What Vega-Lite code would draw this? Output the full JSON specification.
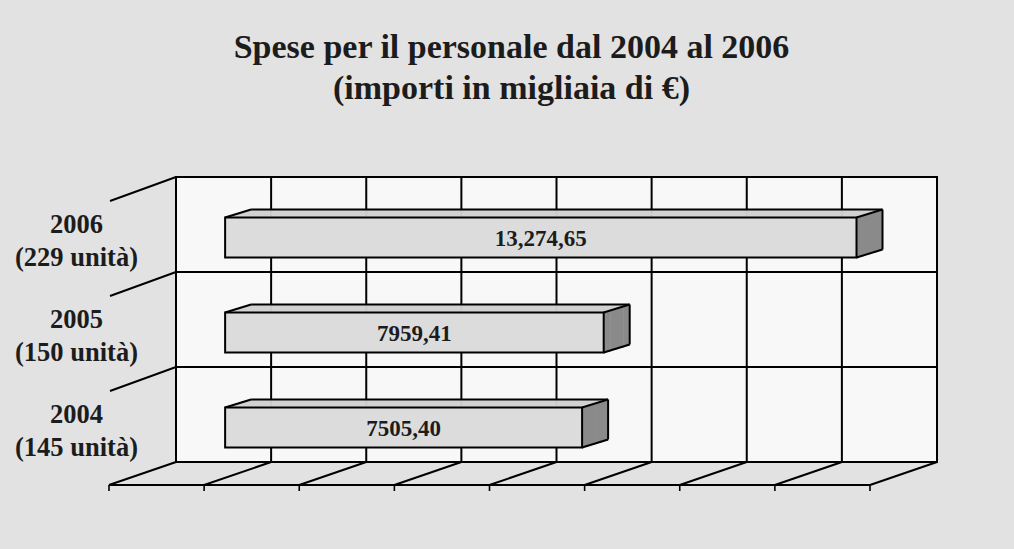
{
  "$schema": "https://vega.github.io/schema/vega-lite/v6.json",
  "width": 761,
  "height": 285,
  "autosize": {"type": "none"},
  "padding": {"left": 176, "top": 177, "right": 77, "bottom": 87},
  "background": "#e2e2e2",
  "config": {
    "view": {"stroke": "#000000", "strokeWidth": 2, "fill": "#f8f8f8"},
    "font": "Liberation Serif",
    "axisY": {"title": null, "domain": false, "ticks": false, "grid": false, "labelFont": "Liberation Serif", "labelFontSize": 26.5, "labelFontWeight": "bold", "labelColor": "#1c1c1c", "labelAlign": "center", "labelBaseline": "middle", "labelLineHeight": 33, "labelPadding": 100, "labelOffset": 0, "labelLimit": 300}
  },
  "title": {
    "text": ["Spese per il personale dal 2004 al 2006", "(importi in migliaia di €)"],
    "font": "Liberation Serif",
    "fontSize": 34,
    "fontWeight": "bold",
    "color": "#1c1c1c",
    "lineHeight": 41,
    "anchor": "middle",
    "dx": -45,
    "offset": 70
  },
  "datasets": {
    "spese": [
      {"cat": "2006 (229 unità)", "inizio": 0, "spesa": 13274.65, "etichetta": "13,274,65"},
      {"cat": "2005 (150 unità)", "inizio": 0, "spesa": 7959.41, "etichetta": "7959,41"},
      {"cat": "2004 (145 unità)", "inizio": 0, "spesa": 7505.40, "etichetta": "7505,40"}
    ],
    "griglia": [
      {"v": -2000}, {"v": 0}, {"v": 2000}, {"v": 4000}, {"v": 6000},
      {"v": 8000}, {"v": 10000}, {"v": 12000}, {"v": 14000}
    ]
  },
  "layer": [
    {
      "data": {"name": "griglia"},
      "mark": {"type": "rule", "color": "#000000", "strokeWidth": 2},
      "encoding": {
        "x": {"field": "v", "type": "quantitative", "scale": {"domain": [-2000, 14000], "nice": false, "zero": false}, "axis": null}
      }
    },
    {
      "data": {"name": "spese"},
      "mark": {"type": "rule", "color": "#000000", "strokeWidth": 2, "yOffset": -47.5},
      "encoding": {
        "y": {"field": "cat", "type": "nominal", "scale": {"domain": ["2006 (229 unità)", "2005 (150 unità)", "2004 (145 unità)"], "paddingInner": 0, "paddingOuter": 0},
          "axis": {"title": null, "labelExpr": "[slice(datum.label, 0, 4), slice(datum.label, 5)]"}}
      }
    },
    {
      "data": {"name": "spese"},
      "mark": {"type": "rule", "color": "#000000", "strokeWidth": 2, "xOffset": -95.125, "x2Offset": -161.125, "yOffset": -47.5, "y2Offset": -23.5},
      "encoding": {
        "x": {"field": "inizio", "type": "quantitative", "scale": {"domain": [-2000, 14000], "nice": false, "zero": false}, "axis": null},
        "x2": {"field": "inizio"},
        "y": {"field": "cat", "type": "nominal", "scale": {"domain": ["2006 (229 unità)", "2005 (150 unità)", "2004 (145 unità)"], "paddingInner": 0, "paddingOuter": 0},
          "axis": {"title": null, "labelExpr": "[slice(datum.label, 0, 4), slice(datum.label, 5)]"}},
        "y2": {"field": "cat"}
      }
    },
    {
      "data": {"name": "griglia"},
      "mark": {"type": "rule", "color": "#000000", "strokeWidth": 2, "x2Offset": -67, "y2Offset": 23},
      "encoding": {
        "x": {"field": "v", "type": "quantitative", "scale": {"domain": [-2000, 14000], "nice": false, "zero": false}, "axis": null},
        "x2": {"field": "v"},
        "y": {"value": "height"},
        "y2": {"value": "height"}
      }
    },
    {
      "data": {"name": "griglia"},
      "transform": [{"aggregate": [{"op": "min", "field": "v", "as": "vmin"}, {"op": "max", "field": "v", "as": "vmax"}]}],
      "mark": {"type": "rule", "color": "#000000", "strokeWidth": 1.8, "xOffset": -67, "x2Offset": -67, "yOffset": 23},
      "encoding": {
        "x": {"field": "vmin", "type": "quantitative", "scale": {"domain": [-2000, 14000], "nice": false, "zero": false}, "axis": null},
        "x2": {"field": "vmax"},
        "y": {"value": "height"}
      }
    },
    {
      "data": {"name": "griglia"},
      "mark": {"type": "rule", "color": "#000000", "strokeWidth": 1.6, "xOffset": -67, "x2Offset": -67, "yOffset": 23, "y2Offset": 29},
      "encoding": {
        "x": {"field": "v", "type": "quantitative", "scale": {"domain": [-2000, 14000], "nice": false, "zero": false}, "axis": null},
        "x2": {"field": "v"},
        "y": {"value": "height"},
        "y2": {"value": "height"}
      }
    },
    {
      "data": {"name": "spese"},
      "mark": {"type": "bar", "fill": "#8a8a8a", "height": 40, "xOffset": -46, "x2Offset": -39, "yOffset": 12},
      "encoding": {
        "x": {"field": "spesa", "type": "quantitative", "scale": {"domain": [-2000, 14000], "nice": false, "zero": false}, "axis": null},
        "x2": {"field": "spesa"},
        "y": {"field": "cat", "type": "nominal", "scale": {"domain": ["2006 (229 unità)", "2005 (150 unità)", "2004 (145 unità)"], "paddingInner": 0, "paddingOuter": 0},
          "axis": {"title": null, "labelExpr": "[slice(datum.label, 0, 4), slice(datum.label, 5)]"}}
      }
    },
    {
      "data": {"name": "spese"},
      "mark": {"type": "bar", "fill": "#8a8a8a", "height": 40, "xOffset": -39.5, "x2Offset": -32.5, "yOffset": 10},
      "encoding": {
        "x": {"field": "spesa", "type": "quantitative", "scale": {"domain": [-2000, 14000], "nice": false, "zero": false}, "axis": null},
        "x2": {"field": "spesa"},
        "y": {"field": "cat", "type": "nominal", "scale": {"domain": ["2006 (229 unità)", "2005 (150 unità)", "2004 (145 unità)"], "paddingInner": 0, "paddingOuter": 0},
          "axis": {"title": null, "labelExpr": "[slice(datum.label, 0, 4), slice(datum.label, 5)]"}}
      }
    },
    {
      "data": {"name": "spese"},
      "mark": {"type": "bar", "fill": "#8a8a8a", "height": 40, "xOffset": -33, "x2Offset": -26, "yOffset": 8},
      "encoding": {
        "x": {"field": "spesa", "type": "quantitative", "scale": {"domain": [-2000, 14000], "nice": false, "zero": false}, "axis": null},
        "x2": {"field": "spesa"},
        "y": {"field": "cat", "type": "nominal", "scale": {"domain": ["2006 (229 unità)", "2005 (150 unità)", "2004 (145 unità)"], "paddingInner": 0, "paddingOuter": 0},
          "axis": {"title": null, "labelExpr": "[slice(datum.label, 0, 4), slice(datum.label, 5)]"}}
      }
    },
    {
      "data": {"name": "spese"},
      "mark": {"type": "bar", "fill": "#8a8a8a", "height": 40, "xOffset": -26.5, "x2Offset": -20, "yOffset": 6},
      "encoding": {
        "x": {"field": "spesa", "type": "quantitative", "scale": {"domain": [-2000, 14000], "nice": false, "zero": false}, "axis": null},
        "x2": {"field": "spesa"},
        "y": {"field": "cat", "type": "nominal", "scale": {"domain": ["2006 (229 unità)", "2005 (150 unità)", "2004 (145 unità)"], "paddingInner": 0, "paddingOuter": 0},
          "axis": {"title": null, "labelExpr": "[slice(datum.label, 0, 4), slice(datum.label, 5)]"}}
      }
    },
    {
      "data": {"name": "spese"},
      "mark": {"type": "bar", "fill": "#d0d0d0", "height": 2.3, "xOffset": -42.75, "x2Offset": -42.75, "yOffset": -8},
      "encoding": {
        "x": {"field": "spesa", "type": "quantitative", "scale": {"domain": [-2000, 14000], "nice": false, "zero": false}, "axis": null},
        "x2": {"field": "inizio"},
        "y": {"field": "cat", "type": "nominal", "scale": {"domain": ["2006 (229 unità)", "2005 (150 unità)", "2004 (145 unità)"], "paddingInner": 0, "paddingOuter": 0},
          "axis": {"title": null, "labelExpr": "[slice(datum.label, 0, 4), slice(datum.label, 5)]"}}
      }
    },
    {
      "data": {"name": "spese"},
      "mark": {"type": "bar", "fill": "#d0d0d0", "height": 2.3, "xOffset": -36.25, "x2Offset": -36.25, "yOffset": -10},
      "encoding": {
        "x": {"field": "spesa", "type": "quantitative", "scale": {"domain": [-2000, 14000], "nice": false, "zero": false}, "axis": null},
        "x2": {"field": "inizio"},
        "y": {"field": "cat", "type": "nominal", "scale": {"domain": ["2006 (229 unità)", "2005 (150 unità)", "2004 (145 unità)"], "paddingInner": 0, "paddingOuter": 0},
          "axis": {"title": null, "labelExpr": "[slice(datum.label, 0, 4), slice(datum.label, 5)]"}}
      }
    },
    {
      "data": {"name": "spese"},
      "mark": {"type": "bar", "fill": "#d0d0d0", "height": 2.3, "xOffset": -29.75, "x2Offset": -29.75, "yOffset": -12},
      "encoding": {
        "x": {"field": "spesa", "type": "quantitative", "scale": {"domain": [-2000, 14000], "nice": false, "zero": false}, "axis": null},
        "x2": {"field": "inizio"},
        "y": {"field": "cat", "type": "nominal", "scale": {"domain": ["2006 (229 unità)", "2005 (150 unità)", "2004 (145 unità)"], "paddingInner": 0, "paddingOuter": 0},
          "axis": {"title": null, "labelExpr": "[slice(datum.label, 0, 4), slice(datum.label, 5)]"}}
      }
    },
    {
      "data": {"name": "spese"},
      "mark": {"type": "bar", "fill": "#d0d0d0", "height": 2.3, "xOffset": -23.25, "x2Offset": -23.25, "yOffset": -14},
      "encoding": {
        "x": {"field": "spesa", "type": "quantitative", "scale": {"domain": [-2000, 14000], "nice": false, "zero": false}, "axis": null},
        "x2": {"field": "inizio"},
        "y": {"field": "cat", "type": "nominal", "scale": {"domain": ["2006 (229 unità)", "2005 (150 unità)", "2004 (145 unità)"], "paddingInner": 0, "paddingOuter": 0},
          "axis": {"title": null, "labelExpr": "[slice(datum.label, 0, 4), slice(datum.label, 5)]"}}
      }
    },
    {
      "data": {"name": "spese"},
      "mark": {"type": "rule", "color": "#000000", "strokeWidth": 2, "xOffset": -46, "x2Offset": -20, "yOffset": -7, "y2Offset": -15},
      "encoding": {
        "x": {"field": "inizio", "type": "quantitative", "scale": {"domain": [-2000, 14000], "nice": false, "zero": false}, "axis": null},
        "x2": {"field": "inizio"},
        "y": {"field": "cat", "type": "nominal", "scale": {"domain": ["2006 (229 unità)", "2005 (150 unità)", "2004 (145 unità)"], "paddingInner": 0, "paddingOuter": 0},
          "axis": {"title": null, "labelExpr": "[slice(datum.label, 0, 4), slice(datum.label, 5)]"}},
        "y2": {"field": "cat"}
      }
    },
    {
      "data": {"name": "spese"},
      "mark": {"type": "rule", "color": "#000000", "strokeWidth": 2, "xOffset": -20, "x2Offset": -20, "yOffset": -15},
      "encoding": {
        "x": {"field": "inizio", "type": "quantitative", "scale": {"domain": [-2000, 14000], "nice": false, "zero": false}, "axis": null},
        "x2": {"field": "spesa"},
        "y": {"field": "cat", "type": "nominal", "scale": {"domain": ["2006 (229 unità)", "2005 (150 unità)", "2004 (145 unità)"], "paddingInner": 0, "paddingOuter": 0},
          "axis": {"title": null, "labelExpr": "[slice(datum.label, 0, 4), slice(datum.label, 5)]"}}
      }
    },
    {
      "data": {"name": "spese"},
      "mark": {"type": "rule", "color": "#000000", "strokeWidth": 2, "xOffset": -46, "x2Offset": -20, "yOffset": -7, "y2Offset": -15},
      "encoding": {
        "x": {"field": "spesa", "type": "quantitative", "scale": {"domain": [-2000, 14000], "nice": false, "zero": false}, "axis": null},
        "x2": {"field": "spesa"},
        "y": {"field": "cat", "type": "nominal", "scale": {"domain": ["2006 (229 unità)", "2005 (150 unità)", "2004 (145 unità)"], "paddingInner": 0, "paddingOuter": 0},
          "axis": {"title": null, "labelExpr": "[slice(datum.label, 0, 4), slice(datum.label, 5)]"}},
        "y2": {"field": "cat"}
      }
    },
    {
      "data": {"name": "spese"},
      "mark": {"type": "rule", "color": "#000000", "strokeWidth": 2, "xOffset": -20, "yOffset": -15, "y2Offset": 25},
      "encoding": {
        "x": {"field": "spesa", "type": "quantitative", "scale": {"domain": [-2000, 14000], "nice": false, "zero": false}, "axis": null},
        "y": {"field": "cat", "type": "nominal", "scale": {"domain": ["2006 (229 unità)", "2005 (150 unità)", "2004 (145 unità)"], "paddingInner": 0, "paddingOuter": 0},
          "axis": {"title": null, "labelExpr": "[slice(datum.label, 0, 4), slice(datum.label, 5)]"}},
        "y2": {"field": "cat"}
      }
    },
    {
      "data": {"name": "spese"},
      "mark": {"type": "rule", "color": "#000000", "strokeWidth": 2, "xOffset": -46, "x2Offset": -20, "yOffset": 33, "y2Offset": 25},
      "encoding": {
        "x": {"field": "spesa", "type": "quantitative", "scale": {"domain": [-2000, 14000], "nice": false, "zero": false}, "axis": null},
        "x2": {"field": "spesa"},
        "y": {"field": "cat", "type": "nominal", "scale": {"domain": ["2006 (229 unità)", "2005 (150 unità)", "2004 (145 unità)"], "paddingInner": 0, "paddingOuter": 0},
          "axis": {"title": null, "labelExpr": "[slice(datum.label, 0, 4), slice(datum.label, 5)]"}},
        "y2": {"field": "cat"}
      }
    },
    {
      "data": {"name": "spese"},
      "mark": {"type": "bar", "fill": "#dcdcdc", "stroke": "#000000", "strokeWidth": 2, "height": 40, "xOffset": -46, "x2Offset": -46, "yOffset": 13},
      "encoding": {
        "x": {"field": "spesa", "type": "quantitative", "scale": {"domain": [-2000, 14000], "nice": false, "zero": false}, "axis": null},
        "x2": {"field": "inizio"},
        "y": {"field": "cat", "type": "nominal", "scale": {"domain": ["2006 (229 unità)", "2005 (150 unità)", "2004 (145 unità)"], "paddingInner": 0, "paddingOuter": 0},
          "axis": {"title": null, "labelExpr": "[slice(datum.label, 0, 4), slice(datum.label, 5)]"}}
      }
    },
    {
      "data": {"name": "spese"},
      "transform": [{"calculate": "datum.spesa / 2", "as": "mid"}],
      "mark": {"type": "text", "font": "Liberation Serif", "fontSize": 23, "fontWeight": "bold", "color": "#1c1c1c", "align": "center", "baseline": "middle", "xOffset": -46, "yOffset": 14},
      "encoding": {
        "x": {"field": "mid", "type": "quantitative", "scale": {"domain": [-2000, 14000], "nice": false, "zero": false}, "axis": null},
        "y": {"field": "cat", "type": "nominal", "scale": {"domain": ["2006 (229 unità)", "2005 (150 unità)", "2004 (145 unità)"], "paddingInner": 0, "paddingOuter": 0},
          "axis": {"title": null, "labelExpr": "[slice(datum.label, 0, 4), slice(datum.label, 5)]"}},
        "text": {"field": "etichetta"}
      }
    }
  ]
}
